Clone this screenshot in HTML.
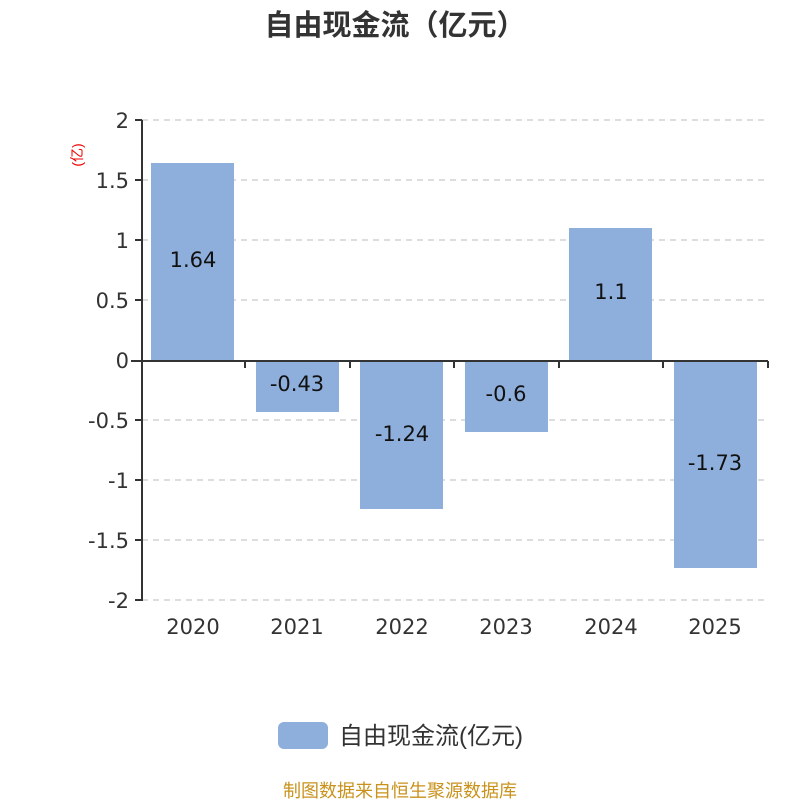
<!DOCTYPE html>
<html><head><meta charset="utf-8"><style>
body{margin:0;background:#fff;width:800px;height:800px;overflow:hidden}
svg text{font-family:"DejaVu Sans","Noto Sans CJK SC",sans-serif}
.c{font-family:"Liberation Sans","Noto Sans CJK SC",sans-serif}
</style></head><body>
<svg width="800" height="800" xmlns="http://www.w3.org/2000/svg">
<text class="c" x="395" y="35" text-anchor="middle" font-size="29" font-weight="bold" fill="#333">自由现金流（亿元）</text>
<g stroke="#bbb" stroke-dasharray="6,5" stroke-width="1">
<line x1="142" y1="120" x2="768" y2="120"/><line x1="142" y1="180" x2="768" y2="180"/>
<line x1="142" y1="240" x2="768" y2="240"/><line x1="142" y1="300" x2="768" y2="300"/>
<line x1="142" y1="420" x2="768" y2="420"/><line x1="142" y1="480" x2="768" y2="480"/>
<line x1="142" y1="540" x2="768" y2="540"/><line x1="142" y1="600" x2="768" y2="600"/>
</g>
<g fill="#8eaedb">
<rect x="151" y="163" width="83" height="197"/>
<rect x="256" y="360" width="83" height="52"/>
<rect x="360" y="360" width="83" height="149"/>
<rect x="465" y="360" width="83" height="72"/>
<rect x="569" y="228" width="83" height="132"/>
<rect x="674" y="360" width="83" height="208"/>
</g>
<g stroke="#333" stroke-width="2">
<line x1="142" y1="120" x2="142" y2="601"/>
<line x1="131" y1="361" x2="768" y2="361"/>
<line x1="135" y1="120" x2="142" y2="120"/><line x1="135" y1="180" x2="142" y2="180"/>
<line x1="135" y1="240" x2="142" y2="240"/><line x1="135" y1="300" x2="142" y2="300"/>
<line x1="135" y1="420" x2="142" y2="420"/><line x1="135" y1="480" x2="142" y2="480"/>
<line x1="135" y1="540" x2="142" y2="540"/><line x1="135" y1="600" x2="142" y2="600"/>
<line x1="245" y1="361" x2="245" y2="368"/><line x1="350" y1="361" x2="350" y2="368"/>
<line x1="454" y1="361" x2="454" y2="368"/><line x1="559" y1="361" x2="559" y2="368"/>
<line x1="663" y1="361" x2="663" y2="368"/><line x1="768" y1="361" x2="768" y2="368"/>
</g>
<g font-size="21" fill="#333" text-anchor="end">
<text x="129" y="128">2</text><text x="129" y="188">1.5</text><text x="129" y="248">1</text>
<text x="129" y="308">0.5</text><text x="129" y="368">0</text><text x="129" y="428">-0.5</text>
<text x="129" y="488">-1</text><text x="129" y="548">-1.5</text><text x="129" y="608">-2</text>
</g>
<text class="c" transform="translate(82,155) rotate(-90)" font-size="14" fill="#e00" text-anchor="middle">(亿)</text>
<g font-size="21" fill="#333" text-anchor="middle">
<text x="193" y="634">2020</text><text x="297" y="634">2021</text><text x="402" y="634">2022</text>
<text x="506" y="634">2023</text><text x="611" y="634">2024</text><text x="715" y="634">2025</text>
</g>
<g font-size="21" fill="#111" text-anchor="middle">
<text x="193" y="267">1.64</text><text x="297" y="391">-0.43</text><text x="402" y="441">-1.24</text>
<text x="506" y="401">-0.6</text><text x="611" y="299">1.1</text><text x="715" y="470">-1.73</text>
</g>
<rect x="278" y="722" width="50" height="27" rx="6" fill="#8eaedb"/>
<text class="c" x="339" y="744" font-size="24" fill="#333">自由现金流(亿元)</text>
<text class="c" x="400" y="797" font-size="18" fill="#c8921c" text-anchor="middle">制图数据来自恒生聚源数据库</text>
</svg>
</body></html>
